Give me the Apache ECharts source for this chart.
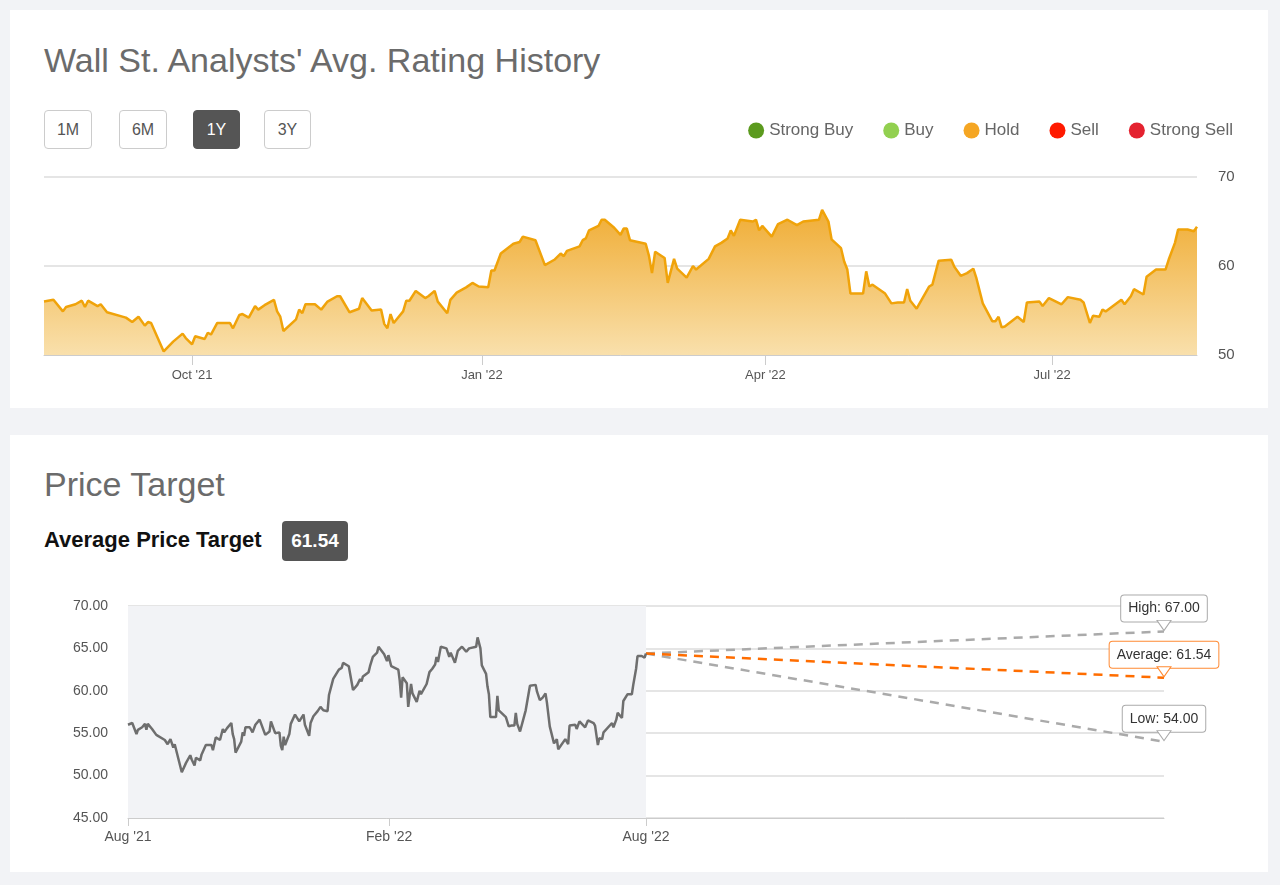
<!DOCTYPE html>
<html><head><meta charset="utf-8">
<script src="https://cdn.jsdelivr.net/npm/echarts@6/dist/echarts.min.js"></script>
<style>
body{margin:0;background:#f2f3f6;font-family:Arial,"Liberation Sans",sans-serif;}
.panel{position:absolute;left:10px;width:1258px;background:#fff;}
.title{position:absolute;left:34px;font-size:34px;color:#6b6b6b;}
.btn{position:absolute;top:100px;border:1px solid #ccc;border-radius:4px;font-size:16px;color:#555;text-align:center;line-height:37px;box-sizing:border-box;height:39px}
#chart{position:absolute;left:0;top:0;width:1280px;height:885px;}
</style></head><body>
<div class="panel" style="top:10px;height:398px">
 <div class="title" style="top:31px">Wall St. Analysts' Avg. Rating History</div>
 <div class="btn" style="left:34px;width:48px">1M</div>
 <div class="btn" style="left:109px;width:48px">6M</div>
 <div class="btn" style="left:183px;width:47px;background:#555;border-color:#555;color:#fff">1Y</div>
 <div class="btn" style="left:254px;width:47px">3Y</div>
</div>
<div class="panel" style="top:435px;height:437px">
 <div class="title" style="top:30px">Price Target</div>
 <div style="position:absolute;left:34px;top:92px;font-size:22px;font-weight:bold;color:#111">Average Price Target</div>
 <div style="position:absolute;left:272px;top:86px;width:66px;height:40px;background:#555;border-radius:4px;color:#fff;font-weight:bold;font-size:19px;line-height:40px;text-align:center">61.54</div>
</div>
<div id="chart"></div>
<script>
// day offsets from the start of the 1Y window, and the values read at them
const days = [0,3,6,7,10,12,13,14,17,18,20,26,28,30,32,33,34,38,41,44,45,47,48,51,52,53,55,59,60,62,63,65,67,68,70,73,74,75,76,80,81,82,83,86,88,90,93,94,97,100,101,104,107,108,109,110,111,114,115,116,118,121,122,124,125,
128,129,131,134,136,138,141,142,143,145,149,151,152,156,159,162,164,165,166,170,171,172,173,176,177,178,181,183,184,185,186,191,192,193,194,197,198,200,201,204,206,207,211,213,215,217,218,219,221,225,226,227,228,231,233,236,239,241,246,247,249,250,
253,254,255,256,260,261,262,263,267,269,271,273,274,275,277,281,282,284,288,289,291,293,295,296,298,301,302,303,304,305,309,311,312,316,317,319,323,325,329,330,332,333,335,336,337,342,343,345,346,349,350,353,356,357,359,360,363,365,366];
const values = [56.0,56.2,54.9,55.4,55.7,56.1,55.4,56.1,55.5,55.7,54.8,54.2,53.7,54.3,53.3,53.7,53.6,50.4,51.5,52.4,51.9,51.2,52.1,51.8,52.5,52.3,53.6,53.6,53.0,54.5,54.6,54.2,55.5,55.1,55.6,56.2,54.9,54.3,52.7,54.0,55.1,54.7,55.7,55.7,55.1,56.0,56.6,56.6,54.8,55.2,56.4,55.0,55.1,53.5,53.0,54.6,53.6,54.9,56.1,56.1,57.2,56.4,56.6,57.2,56.0,
54.7,56.2,57.0,57.6,58.1,57.7,57.6,59.5,59.5,61.4,62.5,62.7,63.3,62.9,60.1,60.7,61.4,61.1,61.7,62.2,62.9,63.1,64.0,64.5,65.2,65.2,64.3,63.5,64.2,64.2,62.9,62.5,61.2,59.2,61.6,60.9,58.1,60.8,59.7,58.7,60.0,59.6,60.8,62.2,62.6,63.1,64.0,63.4,65.2,65.0,65.2,64.0,64.5,63.3,64.7,65.2,64.6,65.0,65.2,66.3,65.0,63.0,
62.0,60.5,59.6,56.9,56.9,59.4,57.7,57.9,56.9,55.8,55.9,55.9,57.4,56.1,55.2,57.7,57.9,60.6,60.7,59.9,58.9,59.2,59.7,58.6,55.8,53.8,53.8,54.3,53.1,53.2,54.3,53.7,55.9,56.0,55.5,56.4,55.7,56.5,56.2,55.9,53.6,54.4,54.3,55.1,54.9,56.2,55.7,56.6,57.4,56.8,58.8,59.6,59.6,60.7,62.6,64.1,64.1,63.9,64.4];
const ratingStart = '2021-08-15', ratingDays = 366;
const ratingTicks = ['2021-10-01','2022-01-01','2022-04-01','2022-07-01'];
const legendNames = ['Strong Buy','Buy','Hold','Sell','Strong Sell'];
const legendColors = ['#5b9a1e','#92d050','#f5a623','#ff1a00','#e4222f'];
const priceStart = '2021-08-01', priceEnd = '2022-08-01', forecastEnd = '2023-08-01';
const priceTicks = ['2021-08-01','2022-02-01','2022-08-01'];
const targetHigh = 67.00, targetAvg = 61.54, targetLow = 54.00;

const DAY = 86400000;
const ts = s=>Date.parse(s+'T00:00:00Z');
const t0 = ts(ratingStart);
const ratingData = days.map((d,i)=>[t0+d*DAY, values[i]]);
const p0 = ts(priceStart), p1 = ts(priceEnd), p2 = ts(forecastEnd);
const priceData = days.map((d,i)=>[p0+(p1-p0)*d/ratingDays, values[i]]);
const lastVal = values[values.length-1];
const mon = ['Jan','Feb','Mar','Apr','May','Jun','Jul','Aug','Sep','Oct','Nov','Dec'];
const fmt = v=>{const d=new Date(v);return mon[d.getUTCMonth()]+" '"+String(d.getUTCFullYear()).slice(2);};

function target(name,val,color,border){
  return {type:'line',xAxisIndex:1,yAxisIndex:1,name:name,data:[[p1,lastVal],[p2,val]],
    symbol:'none',lineStyle:{color:color,width:2.5,type:[9,7]},z:3,
    markPoint:{symbol:'triangle',symbolRotate:180,symbolSize:[14,10],symbolOffset:[0,-6],z:6,
      itemStyle:{color:'#fff',borderColor:border,borderWidth:1},label:{show:false},
      data:[{coord:[p2,val]}]},
    endLabel:{show:true,formatter:name+': '+val.toFixed(2),distance:0,align:'center',verticalAlign:'bottom',offset:[0,-10],
      color:'#333',fontSize:14,backgroundColor:'#fff',borderColor:border,borderWidth:1,borderRadius:3,padding:[6,7]}};
}

const chart = echarts.init(document.getElementById('chart'),null,{renderer:'canvas'});
chart.setOption({
  animation:false,
  textStyle:{fontFamily:'Arial, Liberation Sans, sans-serif'},
  legend:{right:42,top:117,icon:'circle',itemWidth:16,itemHeight:16,itemGap:30,
    textStyle:{fontSize:17,color:'#666'},data:legendNames},
  grid:[{left:44,right:83,top:177,bottom:530},{left:128,right:116,top:606,bottom:67}],
  xAxis:[
    {type:'value',gridIndex:0,min:t0,max:t0+ratingDays*DAY,splitLine:{show:false},
     axisLine:{lineStyle:{color:'#ccc'}},
     axisTick:{show:true,length:10,lineStyle:{color:'#ccc'},customValues:ratingTicks.map(ts)},
     axisLabel:{color:'#555',fontSize:13,margin:14,customValues:ratingTicks.map(ts),formatter:fmt}},
    {type:'value',gridIndex:1,min:p0,max:p2,splitLine:{show:false},
     axisLine:{lineStyle:{color:'#ccc'}},
     axisTick:{show:true,length:8,lineStyle:{color:'#ccc'},customValues:priceTicks.map(ts)},
     axisLabel:{color:'#555',fontSize:14,margin:12,customValues:priceTicks.map(ts),formatter:fmt}}
  ],
  yAxis:[
    {type:'value',gridIndex:0,position:'right',min:50,max:70,interval:10,
     axisLine:{show:false},axisTick:{show:false},
     axisLabel:{color:'#555',fontSize:15,margin:21},splitLine:{lineStyle:{color:'#ddd',width:1.5}}},
    {type:'value',gridIndex:1,min:45,max:70,interval:5,
     axisLine:{show:false},axisTick:{show:false},
     axisLabel:{color:'#555',fontSize:14,margin:20,formatter:v=>v.toFixed(2)},splitLine:{lineStyle:{color:'#ddd',width:1.5}}}
  ],
  series:[
    {type:'line',name:'Strong Buy',data:[],itemStyle:{color:legendColors[0]}},
    {type:'line',name:'Buy',data:[],itemStyle:{color:legendColors[1]}},
    {type:'line',name:'Hold',data:ratingData,symbol:'none',itemStyle:{color:legendColors[2]},
     lineStyle:{color:'#f0a30a',width:2.5},
     areaStyle:{color:new echarts.graphic.LinearGradient(0,0,0,1,[{offset:0,color:'#f0ad35'},{offset:1,color:'#f9e0ac'}]),opacity:1}},
    {type:'line',name:'Sell',data:[],itemStyle:{color:legendColors[3]}},
    {type:'line',name:'Strong Sell',data:[],itemStyle:{color:legendColors[4]}},
    {type:'line',name:'Price',xAxisIndex:1,yAxisIndex:1,data:priceData,symbol:'none',
     lineStyle:{color:'#6e6e6e',width:2.5},z:4,
     markArea:{silent:true,itemStyle:{color:'#f2f3f6'},data:[[{coord:[p0,70]},{coord:[p1,45]}]]}},
    target('High',targetHigh,'#aaa','#aaa'),
    target('Low',targetLow,'#aaa','#aaa'),
    target('Average',targetAvg,'#ff6d00','#ff8a33')
  ]
});
</script></body></html>
